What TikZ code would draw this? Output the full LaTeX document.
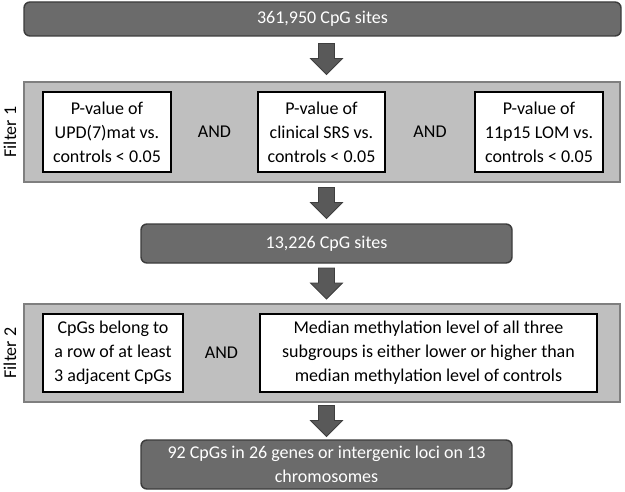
\documentclass[tikz,border=0pt]{standalone}
\usepackage{fontspec}
\setmainfont{Carlito}
\usetikzlibrary{calc}
\definecolor{darkfill}{HTML}{6B6B6B}
\definecolor{darkline}{HTML}{3C3C3C}
\definecolor{bandfill}{HTML}{BFBFBF}
\definecolor{bandline}{HTML}{7F7F7F}
\definecolor{arrfill}{HTML}{595959}
\definecolor{arrline}{HTML}{3F3F3F}
\tikzset{
  base/.style={inner sep=0pt, outer sep=0pt, align=center, font=\fontsize{13.5}{18}\selectfont},
  darkbox/.style={base, rectangle, rounded corners=4.5pt, fill=darkfill, draw=darkline, line width=1.1pt, text=white},
  band/.style={base, rectangle, fill=bandfill, draw=bandline, line width=0.8pt},
  critbox/.style={base, rectangle, fill=white, draw=black, line width=1.5pt},
  andlbl/.style={base},
  filterlbl/.style={base, rotate=90},
  arrowsty/.style={fill=arrfill, draw=arrline, line width=0.6pt, line join=miter}
}
\newcommand{\blkarrow}[2]{%
  \filldraw[arrowsty] let \p1=(#1.south -| mid.center), \p2=(#2.north -| mid.center) in
    ({\x1-6pt},{(\y1+\y2)/2+11.625pt}) -- ({\x1+6pt},{(\y1+\y2)/2+11.625pt})
    -- ({\x1+6pt},{(\y1+\y2)/2+0.375pt}) -- ({\x1+12pt},{(\y1+\y2)/2+0.375pt})
    -- ({\x1},{(\y1+\y2)/2-11.625pt}) -- ({\x1-12pt},{(\y1+\y2)/2+0.375pt})
    -- ({\x1-6pt},{(\y1+\y2)/2+0.375pt}) -- cycle;}
\begin{document}
\begin{tikzpicture}[x=0.75pt,y=-0.75pt]
\useasboundingbox (0,0) rectangle (625,492);
% top
\node[darkbox, minimum width=447.75pt, minimum height=25.5pt] (top) at (322.5,19) {361,950 CpG sites};
% filter 1
\node[band, minimum width=447pt, minimum height=75pt] (band1) at (322,132) {};
\node[filterlbl] (fl1) at (10,132) {Filter 1};
\node[critbox, minimum width=96pt, minimum height=60pt] (f1a) at (107,132) {P-value of\\UPD(7)mat vs.\\controls < 0.05};
\node[andlbl] (and1) at (214.5,132) {AND};
\node[critbox, minimum width=95.25pt, minimum height=60pt] (f1b) at (321.5,132) {P-value of\\clinical SRS vs.\\controls < 0.05};
\node[andlbl] (and2) at (430,132) {AND};
\node[critbox, minimum width=96pt, minimum height=60pt] (f1c) at (539,132) {P-value of\\11p15 LOM vs.\\controls < 0.05};
% middle
\node[darkbox, minimum width=278.25pt, minimum height=29.25pt] (mid) at (326.5,243.5) {13,226 CpG sites};
% filter 2
\node[band, minimum width=447pt, minimum height=73.5pt] (band2) at (322,353) {};
\node[filterlbl] (fl2) at (10,353) {Filter 2};
\node[critbox, minimum width=105pt, minimum height=58.5pt] (f2a) at (113,353) {CpGs belong to\\a row of at least\\3 adjacent CpGs};
\node[andlbl] (and3) at (221.5,353) {AND};
\node[critbox, minimum width=252.75pt, minimum height=58.5pt] (f2b) at (428.5,353) {Median methylation level of all three\\subgroups is either lower or higher than\\median methylation level of controls};
% bottom
\node[darkbox, minimum width=278.25pt, minimum height=36.75pt] (bot) at (326.5,464.5) {92 CpGs in 26 genes or intergenic loci on 13\\chromosomes};
% arrows
\blkarrow{top}{band1}
\blkarrow{band1}{mid}
\blkarrow{mid}{band2}
\blkarrow{band2}{bot}
\end{tikzpicture}
\end{document}
